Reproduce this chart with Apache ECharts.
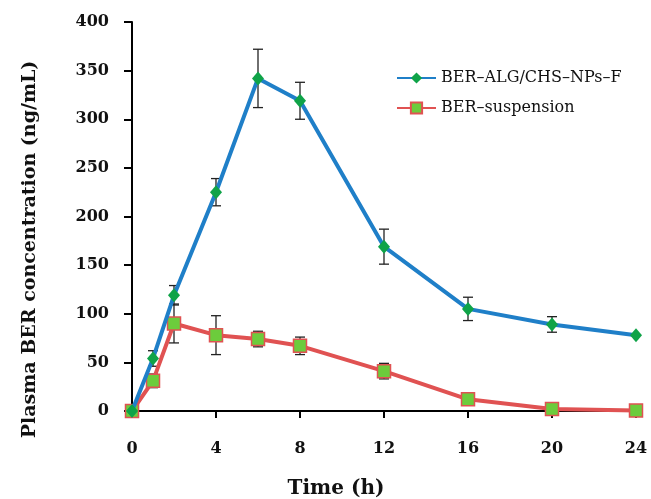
<!DOCTYPE html>
<html><head><meta charset="utf-8">
<script src="https://cdn.jsdelivr.net/npm/echarts@6/dist/echarts.min.js"></script>
<style>html,body{margin:0;padding:0;background:#fff}#c{width:651px;height:499px}</style>
</head><body><div id="c"></div>
<script>
const times = [0, 1, 2, 4, 6, 8, 12, 16, 20, 24];
const npMean = [0, 54, 119, 225, 342, 319, 169, 105, 89, 78];
const npErr = [0, 8, 10, 14, 30, 19, 18, 12, 8, 0];
const susMean = [0, 31, 90, 78, 74, 67, 41, 12, 2, 0.5];
const susErr = [0, 7, 20, 20, 8, 9, 8, 6, 0, 0];
const names = ['BER\u2013ALG/CHS\u2013NPs\u2013F', 'BER\u2013suspension'];

const FONT = 'DejaVu Serif';
function errSeries(mean, err) {
  return {
    type: 'custom', z: 1, silent: true,
    data: times.map((t, i) => [t, mean[i], err[i]]),
    renderItem: function (params, api) {
      const x = api.value(0), m = api.value(1), e = api.value(2);
      if (!e) return null;
      const top = api.coord([x, m + e]), bot = api.coord([x, m - e]);
      const w = 5;
      const st = { stroke: '#222', lineWidth: 1.3 };
      return { type: 'group', children: [
        { type: 'line', shape: { x1: top[0], y1: top[1], x2: bot[0], y2: bot[1] }, style: st },
        { type: 'line', shape: { x1: top[0] - w, y1: top[1], x2: top[0] + w, y2: top[1] }, style: st },
        { type: 'line', shape: { x1: bot[0] - w, y1: bot[1], x2: bot[0] + w, y2: bot[1] }, style: st }
      ]};
    }
  };
}
const chart = echarts.init(document.getElementById('c'), null, { renderer: 'canvas' });
chart.setOption({
  animation: false,
  backgroundColor: '#fff',
  grid: { left: 132, right: 15, top: 22, bottom: 88, containLabel: false, outerBoundsMode: 'none' },
  legend: {
    orient: 'vertical', left: 391, top: 65, itemGap: 14,
    itemWidth: 39, itemHeight: 14,
    textStyle: { fontFamily: FONT, fontSize: 16, color: '#111' },
    data: names
  },
  xAxis: {
    type: 'value', min: 0, max: 24, interval: 4,
    name: 'Time (h)', nameLocation: 'middle', nameGap: 68,
    nameTextStyle: { fontFamily: FONT, fontSize: 20, fontWeight: 'bold', color: '#111', padding: [0, 96, 0, 0] },
    axisLine: { lineStyle: { color: '#000', width: 2 } },
    axisTick: { inside: false, length: 7, lineStyle: { color: '#000', width: 2 } },
    axisLabel: { fontFamily: FONT, fontSize: 16, fontWeight: 'bold', color: '#111', margin: 30 },
    splitLine: { show: false }
  },
  yAxis: {
    type: 'value', min: 0, max: 400, interval: 50,
    name: 'Plasma BER concentration (ng/mL)', nameLocation: 'middle', nameGap: 92,
    nameTextStyle: { fontFamily: FONT, fontSize: 19, fontWeight: 'bold', color: '#111', padding: [0, 66, 0, 0] },
    axisLine: { show: true, lineStyle: { color: '#000', width: 2 } },
    axisTick: { show: true, inside: false, length: 8, lineStyle: { color: '#000', width: 2 } },
    axisLabel: { fontFamily: FONT, fontSize: 16, fontWeight: 'bold', color: '#111', margin: 23 },
    splitLine: { show: false }
  },
  series: [
    errSeries(npMean, npErr),
    errSeries(susMean, susErr),
    {
      name: names[0], type: 'line', z: 3,
      data: times.map((t, i) => [t, npMean[i]]),
      lineStyle: { color: '#1f7fc8', width: 4 },
      itemStyle: { color: '#0fa348', borderColor: '#0fa348', borderWidth: 0 },
      symbol: 'diamond', symbolSize: [12, 14], showAllSymbol: true
    },
    {
      name: names[1], type: 'line', z: 2,
      data: times.map((t, i) => [t, susMean[i]]),
      lineStyle: { color: '#e05252', width: 4 },
      itemStyle: { color: '#6ccc3c', borderColor: '#e05252', borderWidth: 1.5 },
      symbol: 'rect', symbolSize: 13, showAllSymbol: true
    }
  ]
});
</script></body></html>
